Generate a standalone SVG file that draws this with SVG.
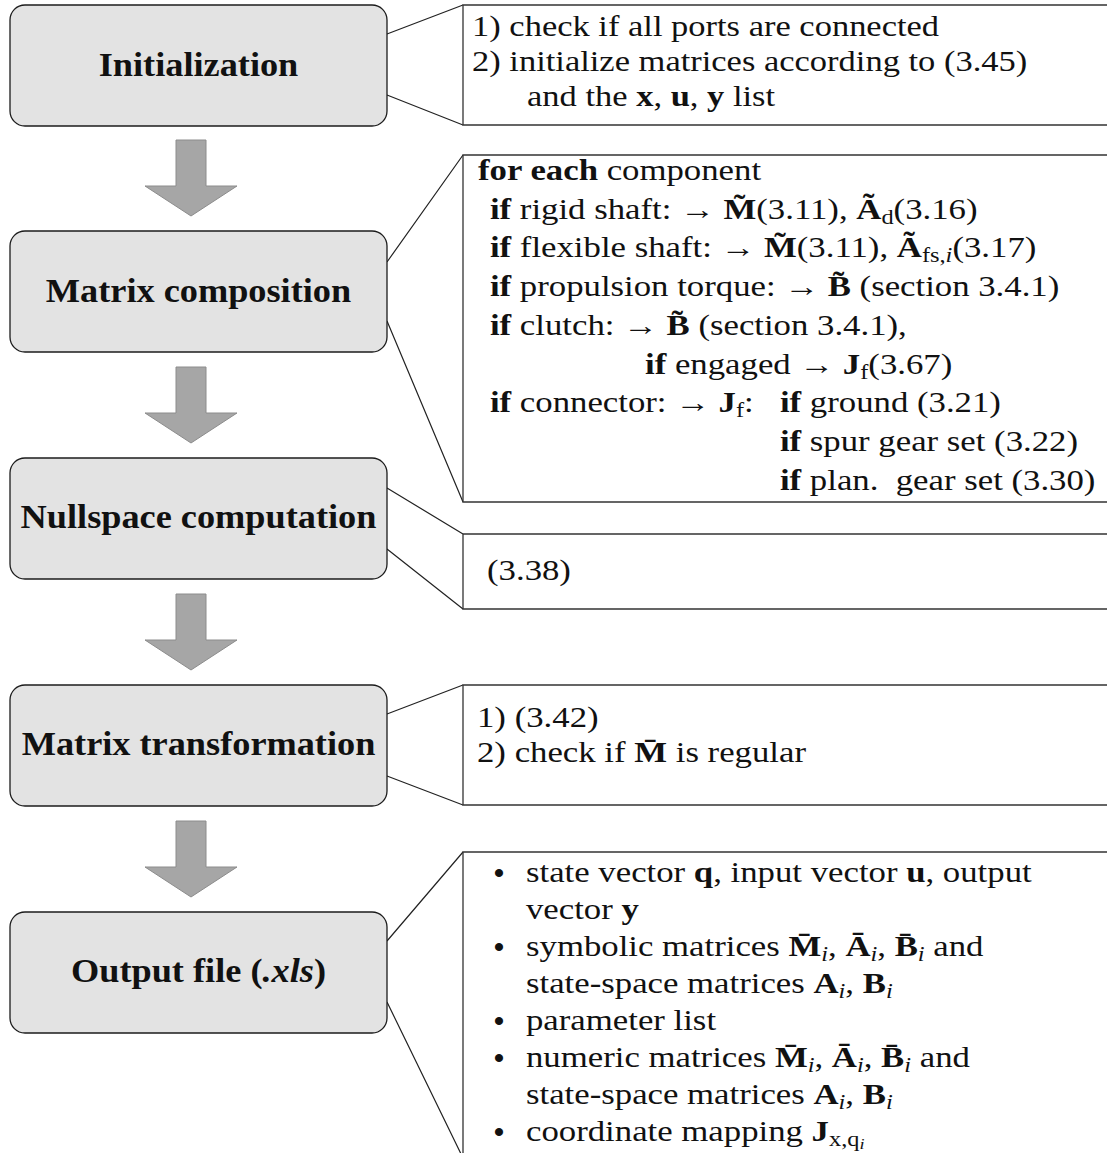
<svg xmlns="http://www.w3.org/2000/svg" width="1107" height="1153" viewBox="0 0 1107 1153">
<style>
.nd{fill:#e3e3e3;stroke:#1c1c1c;stroke-width:1.3}
.tt{font-family:"Liberation Serif","Times New Roman",serif;font-weight:bold;font-size:33px;fill:#111;text-anchor:middle}
.co{fill:#fff;stroke:#333;stroke-width:1.3}
.ln{stroke:#222;stroke-width:1.2;fill:none}
.ar{fill:#a6a6a6;stroke:#8c8c8c;stroke-width:1}
.tx{font-family:"Liberation Serif","Times New Roman",serif;font-size:28.5px;fill:#111}
.bu{font-family:"Liberation Serif","Times New Roman",serif;font-size:30px;font-weight:bold;fill:#111;text-anchor:middle}
.bf{font-weight:bold}
.it{font-style:italic}
.sb{font-size:20px}
.ss{font-size:15px}
</style>
<rect width="1107" height="1153" fill="#fff"/>
<g id="connectors">
  <path class="ar" d="M176,140 H206 V186 H237 L191,216 L145,186 H176 Z"/>
  <path class="ar" d="M176,367 H206 V413 H237 L191,443 L145,413 H176 Z"/>
  <path class="ar" d="M176,594 H206 V640 H237 L191,670 L145,640 H176 Z"/>
  <path class="ar" d="M176,821 H206 V867 H237 L191,897 L145,867 H176 Z"/>
  <path class="ln" d="M387,34 L463,5 M387,95 L463,125"/>
  <path class="ln" d="M387,262 L463,155 M387,321 L463,502"/>
  <path class="ln" d="M387,488 L463,534 M387,549 L463,609"/>
  <path class="ln" d="M387,714 L463,685 M387,776 L463,805"/>
  <path class="ln" d="M387,941 L463,852 M387,1002 L463,1158"/>
</g>
<g id="node-initialization">
  <rect class="nd" x="10" y="5" width="377" height="121" rx="15"/>
  <text class="tt" transform="translate(198.5,76) scale(1.1,1)">Initialization</text>
</g>
<g id="node-matrix-composition">
  <rect class="nd" x="10" y="231" width="377" height="121" rx="15"/>
  <text class="tt" transform="translate(198.5,302) scale(1.1,1)">Matrix composition</text>
</g>
<g id="node-nullspace">
  <rect class="nd" x="10" y="458" width="377" height="121" rx="15"/>
  <text class="tt" transform="translate(198.5,528) scale(1.1,1)">Nullspace computation</text>
</g>
<g id="node-matrix-transformation">
  <rect class="nd" x="10" y="685" width="377" height="121" rx="15"/>
  <text class="tt" transform="translate(198.5,755) scale(1.1,1)">Matrix transformation</text>
</g>
<g id="node-output">
  <rect class="nd" x="10" y="912" width="377" height="121" rx="15"/>
  <text class="tt" transform="translate(198.5,982) scale(1.1,1)">Output file (<tspan class="it">.xls</tspan>)</text>
</g>
<g id="note-initialization">
  <path class="co" d="M1110,5 H463 V125 H1110"/>
  <g class="tx" transform="translate(472,0) scale(1.21,1)">
    <text x="0" y="36">1) check if all ports are connected</text>
    <text x="0" y="71">2) initialize matrices according to (3.45)</text>
    <text x="45.5" y="106">and the <tspan class="bf">x</tspan>, <tspan class="bf">u</tspan>, <tspan class="bf">y</tspan> list</text>
  </g>
</g>
<g id="note-matrix-composition">
  <path class="co" d="M1110,155 H463 V502 H1110"/>
  <g class="tx" transform="translate(478,0) scale(1.22,1)">
    <text x="0" y="180"><tspan class="bf">for each</tspan> component</text>
    <text x="9.8" y="219"><tspan class="bf">if</tspan> rigid shaft: → <tspan class="bf">M̃</tspan>(3.11), <tspan class="bf">Ã</tspan><tspan class="sb" dy="5">d</tspan><tspan dy="-5">(3.16)</tspan></text>
    <text x="9.8" y="257.5"><tspan class="bf">if</tspan> flexible shaft: → <tspan class="bf">M̃</tspan>(3.11), <tspan class="bf">Ã</tspan><tspan class="sb" dy="5">fs,<tspan class="it">i</tspan></tspan><tspan dy="-5">(3.17)</tspan></text>
    <text x="9.8" y="296.3"><tspan class="bf">if</tspan> propulsion torque: → <tspan class="bf">B̃</tspan> (section 3.4.1)</text>
    <text x="9.8" y="335"><tspan class="bf">if</tspan> clutch: → <tspan class="bf">B̃</tspan> (section 3.4.1),</text>
    <text x="136.9" y="373.8"><tspan class="bf">if</tspan> engaged → <tspan class="bf">J</tspan><tspan class="sb" dy="5">f</tspan><tspan dy="-5">(3.67)</tspan></text>
    <text x="9.8" y="412.5"><tspan class="bf">if</tspan> connector: → <tspan class="bf">J</tspan><tspan class="sb" dy="5">f</tspan><tspan dy="-5">:</tspan></text>
    <text x="247.5" y="412.5"><tspan class="bf">if</tspan> ground (3.21)</text>
    <text x="247.5" y="451.3"><tspan class="bf">if</tspan> spur gear set (3.22)</text>
    <text x="247.5" y="490"><tspan class="bf">if</tspan> plan.&#160; gear set (3.30)</text>
  </g>
</g>
<g id="note-nullspace">
  <path class="co" d="M1110,534 H463 V609 H1110"/>
  <g class="tx" transform="translate(487,0) scale(1.22,1)">
    <text x="0" y="580">(3.38)</text>
  </g>
</g>
<g id="note-matrix-transformation">
  <path class="co" d="M1110,685 H463 V805 H1110"/>
  <g class="tx" transform="translate(477,0) scale(1.22,1)">
    <text x="0" y="727">1) (3.42)</text>
    <text x="0" y="762">2) check if <tspan class="bf">M̄</tspan> is regular</text>
  </g>
</g>
<g id="note-output">
  <path class="co" d="M1110,852 H463 V1160"/>
  <g>
    <text class="bu" x="499" y="883">•</text>
    <text class="bu" x="499" y="957">•</text>
    <text class="bu" x="499" y="1031">•</text>
    <text class="bu" x="499" y="1068">•</text>
    <text class="bu" x="499" y="1142">•</text>
  </g>
  <g class="tx" transform="translate(526,0) scale(1.22,1)">
    <text x="0" y="882">state vector <tspan class="bf">q</tspan>, input vector <tspan class="bf">u</tspan>, output</text>
    <text x="0" y="919">vector <tspan class="bf">y</tspan></text>
    <text x="0" y="956">symbolic matrices <tspan class="bf">M̄</tspan><tspan class="sb it" dy="5">i</tspan><tspan dy="-5">, </tspan><tspan class="bf">Ā</tspan><tspan class="sb it" dy="5">i</tspan><tspan dy="-5">, </tspan><tspan class="bf">B̄</tspan><tspan class="sb it" dy="5">i</tspan><tspan dy="-5"> and</tspan></text>
    <text x="0" y="993">state-space matrices <tspan class="bf">A</tspan><tspan class="sb it" dy="5">i</tspan><tspan dy="-5">, </tspan><tspan class="bf">B</tspan><tspan class="sb it" dy="5">i</tspan></text>
    <text x="0" y="1030">parameter list</text>
    <text x="0" y="1067">numeric matrices <tspan class="bf">M̄</tspan><tspan class="sb it" dy="5">i</tspan><tspan dy="-5">, </tspan><tspan class="bf">Ā</tspan><tspan class="sb it" dy="5">i</tspan><tspan dy="-5">, </tspan><tspan class="bf">B̄</tspan><tspan class="sb it" dy="5">i</tspan><tspan dy="-5"> and</tspan></text>
    <text x="0" y="1104">state-space matrices <tspan class="bf">A</tspan><tspan class="sb it" dy="5">i</tspan><tspan dy="-5">, </tspan><tspan class="bf">B</tspan><tspan class="sb it" dy="5">i</tspan></text>
    <text x="0" y="1141">coordinate mapping <tspan class="bf">J</tspan><tspan class="sb" dy="5">x,q</tspan><tspan class="ss it" dy="3">i</tspan></text>
  </g>
</g>
</svg>
